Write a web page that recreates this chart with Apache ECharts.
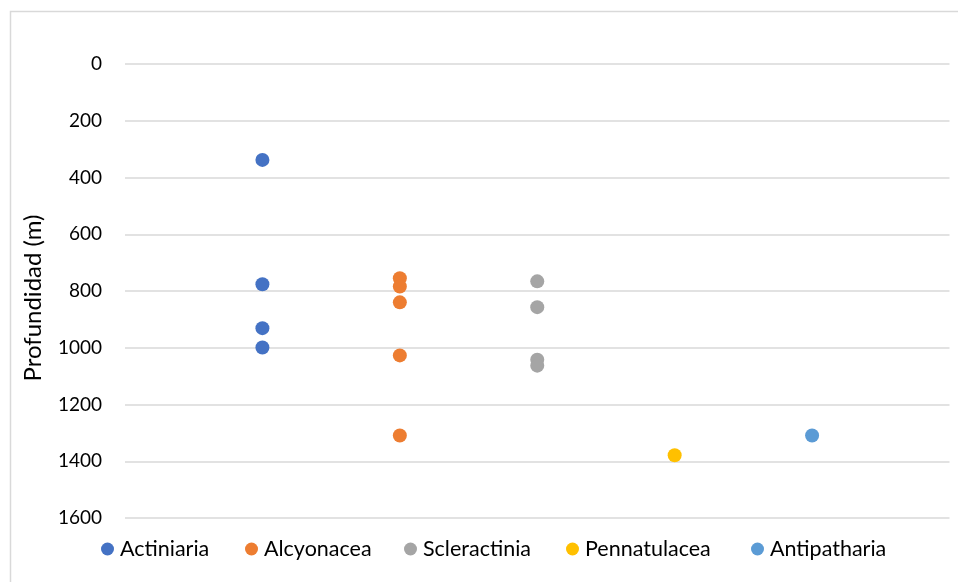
<!DOCTYPE html>
<html>
<head>
<meta charset="utf-8">
<script src="https://cdn.jsdelivr.net/npm/echarts@6/dist/echarts.min.js"></script>
<style>html,body{margin:0;padding:0;background:#fff}#c{width:958px;height:582px}</style>
</head>
<body>
<div id="c"></div>
<script>
var categories = ['Actiniaria', 'Alcyonacea', 'Scleractinia', 'Pennatulacea', 'Antipatharia'];
var actiniaria = [338, 776, 931, 999];
var alcyonacea = [755, 784, 840, 1027, 1309];
var scleractinia = [766, 857, 1042, 1063];
var pennatulacea = [1379];
var antipatharia = [1309];
var yTicks = [0, 200, 400, 600, 800, 1000, 1200, 1400, 1600];
var colors = ['#4472C4', '#ED7D31', '#A5A5A5', '#FFC000', '#5B9BD5'];
var seriesValues = [actiniaria, alcyonacea, scleractinia, pennatulacea, antipatharia];
var legendLeft = [101, 245, 404, 566, 751];

var FONT = 'Lato';
var chart = echarts.init(document.getElementById('c'), null, {renderer: 'canvas'});
var series = categories.map(function (name, i) {
  return {
    name: name,
    type: 'scatter',
    symbol: 'circle',
    symbolSize: 14,
    itemStyle: {color: colors[i], opacity: 1},
    data: seriesValues[i].map(function (v) { return [i + 1, v]; })
  };
});
var legends = categories.map(function (name, i) {
  return {
    data: [name],
    top: 538,
    left: legendLeft[i],
    padding: 0,
    icon: 'circle',
    itemWidth: 13,
    itemHeight: 13,
    textStyle: {fontFamily: FONT, fontSize: 21.5, lineHeight: 21, color: '#000', padding: [0, 0, 0, 1]}
  };
});
chart.setOption({
  animation: false,
  backgroundColor: '#fff',
  color: colors,
  textStyle: {fontFamily: FONT},
  graphic: [{
    type: 'rect', shape: {x: 10.5, y: 11.5, width: 1000, height: 1000},
    style: {fill: 'none', stroke: '#d9d9d9', lineWidth: 1.5}, silent: true
  }],
  grid: {left: 125, right: 8.5, top: 64, bottom: 64, containLabel: false},
  legend: legends,
  xAxis: {
    type: 'value', min: 0, max: 6, interval: 1,
    axisLine: {show: false}, axisTick: {show: false}, axisLabel: {show: false},
    splitLine: {show: false}
  },
  yAxis: {
    type: 'value', inverse: true, min: 0, max: 1600, interval: 200,
    name: 'Profundidad (m)', nameLocation: 'middle', nameGap: 80,
    nameRotate: 90,
    nameTextStyle: {fontFamily: FONT, fontSize: 24, color: '#000', padding: [0, 14, 0, 0]},
    axisLine: {show: false}, axisTick: {show: false},
    axisLabel: {
      fontFamily: FONT, fontSize: 19, color: '#000', margin: 23,
      formatter: function (v) { return yTicks.indexOf(v) >= 0 ? String(v) : ''; }
    },
    splitLine: {show: true, lineStyle: {color: '#d9d9d9', width: 1.5}}
  },
  series: series
});
</script>
</body>
</html>
